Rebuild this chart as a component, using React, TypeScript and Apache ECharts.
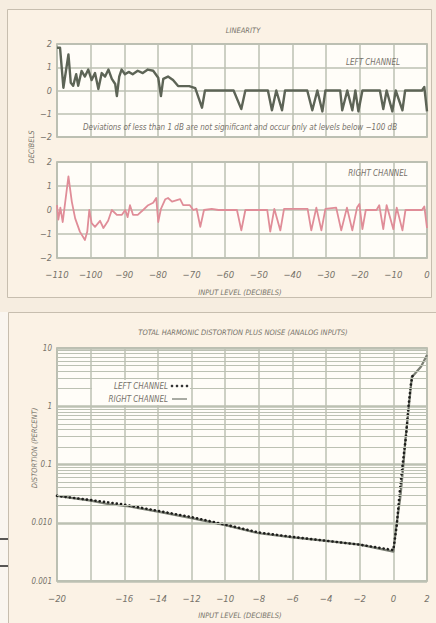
import React, { useEffect, useRef } from "react";
import * as echarts from "echarts";

// ---------- data ----------
const linearityTicks = [-110, -100, -90, -80, -70, -60, -50, -40, -30, -20, -10, 0];
const linearityYTicks = [2, 1, 0, -1, -2];

const leftLinearity: [number, number][] = [
  [-110, 1.84], [-109.1, 1.84], [-108.1, 0.12], [-106.6, 1.55], [-105.9, 0.33], [-105.2, 0.2],
  [-104.3, 0.7], [-103.7, 0.2], [-102.7, 0.84], [-101.7, 0.6], [-100.7, 0.9], [-99.7, 0.45],
  [-98.7, 0.75], [-97.7, 0.06], [-96.7, 0.75], [-95.7, 0.6], [-94.7, 0.9], [-93.7, 0.5],
  [-92.7, 0.28], [-92.2, -0.24], [-91.5, 0.6], [-90.8, 0.9], [-89.8, 0.7], [-88.7, 0.8],
  [-87.5, 0.7], [-86, 0.85], [-84.5, 0.75], [-83, 0.9], [-81.4, 0.85], [-79.9, 0.55],
  [-79.1, -0.24], [-78.4, 0.5], [-77, 0.6], [-75.5, 0.45], [-74, 0.19], [-70.7, 0.19],
  [-68.9, 0.1], [-66.9, -0.74], [-66, 0], [-57.5, 0], [-55.2, -0.8], [-54, 0],
  [-47.3, 0], [-46.1, -0.85], [-44.8, 0], [-43.1, -0.85], [-42.2, 0], [-35.6, 0],
  [-34.1, -0.85], [-32.6, 0], [-31.1, -0.9], [-30.2, 0], [-25.8, 0], [-25.2, -0.85],
  [-23.7, 0], [-22.2, -0.85], [-21.3, 0], [-20.4, -0.9], [-19.2, 0], [-14, 0],
  [-13, -0.8], [-12, 0], [-10.3, -0.9], [-9.3, 0], [-7.3, -0.85], [-6.5, 0],
  [-1.5, 0], [-0.8, 0.15], [0, -0.9],
];

const rightLinearity: [number, number][] = [
  [-110, 0.2], [-109.6, -0.4], [-109, 0.1], [-108.3, -0.5], [-106.6, 1.4], [-105.6, 0.35],
  [-104.6, -0.35], [-103.2, -0.9], [-101.7, -1.25], [-101, -0.9], [-100.4, 0], [-99.7, -0.55],
  [-98.7, -0.7], [-97.2, -0.45], [-96.2, -0.75], [-94.8, -0.45], [-93.7, 0], [-92.2, -0.2],
  [-90.7, -0.2], [-89.7, 0], [-89, -0.3], [-88.3, 0.2], [-87.4, -0.2], [-86, -0.2],
  [-84.4, 0], [-82.9, 0.2], [-81.4, 0.3], [-80.5, 0.5], [-79.9, -0.5], [-79.1, 0.05],
  [-77.8, 0.45], [-77, 0.5], [-75.8, 0.35], [-73.4, 0.45], [-72.5, 0.2], [-70.5, 0.2],
  [-69.5, 0], [-68.5, 0.05], [-67.4, -0.7], [-66.3, 0], [-64, 0.05], [-62, 0],
  [-56.5, 0], [-55.2, -0.85], [-54, 0], [-47.5, 0], [-46.6, -0.9], [-45.4, 0.05],
  [-43.6, -0.85], [-42.5, 0.05], [-35.5, 0.05], [-34.4, -0.85], [-32.9, 0.1], [-31.4, -0.85],
  [-30.2, 0.05], [-27, 0.1], [-25.5, -0.85], [-23.8, 0.1], [-22.2, -0.85], [-20.8, 0.1],
  [-20.1, 0.25], [-19.2, -0.8], [-18.2, 0], [-15, 0], [-14.2, 0.2], [-13, -0.8],
  [-12, 0.2], [-10, -0.8], [-9, 0.1], [-7.3, -0.85], [-6.4, 0], [-1.5, 0],
  [-0.8, 0.15], [0, -0.75],
];

const thdXTicks = [-20, -18, -16, -14, -12, -10, -8, -6, -4, -2, 0, 2];
const thdXHidden = [-18];
const thdYTicks = [10, 1, 0.1, 0.01, 0.001];
const thdYLabels = ["10", "1", "0.1", "0.010", "0.001"];
const thdMinorLines = [
  0.002, 0.003, 0.004, 0.005, 0.006, 0.007, 0.008, 0.009,
  0.02, 0.03, 0.04, 0.05, 0.06, 0.07, 0.08, 0.09,
  0.2, 0.3, 0.4, 0.5, 0.6, 0.7, 0.8, 0.9,
  2, 3, 4, 5, 6, 7, 8, 9,
];

const thdRight: [number, number][] = [
  [-20, 0.029], [-18, 0.024], [-17, 0.021], [-15.7, 0.019], [-14, 0.0155], [-12, 0.012],
  [-10, 0.0091], [-8, 0.0066], [-6, 0.0056], [-4, 0.0049], [-2, 0.0042], [0, 0.0032],
  [0.17, 0.0085], [0.42, 0.028], [0.6, 0.1], [0.71, 0.26], [0.9, 0.86], [1.1, 3.2],
  [1.2, 3.4], [1.65, 4.8], [2, 7.6],
];

const thdLeft: [number, number][] = [
  [-20, 0.029], [-18, 0.0245], [-16, 0.0205], [-14, 0.016], [-12, 0.0125], [-10, 0.0093],
  [-8, 0.0068], [-6, 0.0057], [-4, 0.0049], [-2, 0.0042], [0, 0.0034], [0.2, 0.009],
  [0.4, 0.04], [0.55, 0.1], [0.75, 0.3], [0.9, 1.0], [1.05, 2.5], [1.15, 3.4],
];

// ---------- styles ----------
const FONT = "'Liberation Sans Narrow', 'DejaVu Sans Condensed', 'Liberation Sans', sans-serif";
const TXT = "#77726a";
const GRID = "#bcc1b3";
const BORDER = "#a6aa9c";
const fmtMinus = (v: number) => (v < 0 ? "\u2212" + Math.abs(v) : String(v));

export default function App() {
  const ref = useRef<HTMLDivElement>(null);

  useEffect(() => {
    if (!ref.current) return;
    const chart = echarts.init(ref.current, undefined, { renderer: "svg" });

    const labelStyle = {
      color: TXT,
      fontFamily: FONT,
      fontStyle: "italic" as const,
      fontSize: 9,
    };
    const splitLine = { show: true, lineStyle: { color: GRID, width: 1.5 } };
    const axisLine = { show: false };

    const linX = (gi: number, showLabels: boolean) => ({
      type: "value" as const,
      gridIndex: gi,
      min: -110,
      max: 0,
      interval: 10,
      axisLine,
      axisTick: { show: false },
      splitLine,
      axisLabel: {
        show: showLabels,
        ...labelStyle,
        fontSize: 9.5,
        margin: 11,
        formatter: (v: number) => (linearityTicks.includes(v) ? fmtMinus(v) : ""),
      },
    });
    const linY = (gi: number) => ({
      type: "value" as const,
      gridIndex: gi,
      min: -2,
      max: 2,
      interval: 1,
      axisLine,
      axisTick: { show: false },
      splitLine,
      axisLabel: {
        ...labelStyle,
        margin: 5,
        formatter: (v: number) => (linearityYTicks.includes(v) ? fmtMinus(v) : ""),
      },
    });

    const text = (x: number, y: number, t: string, extra: any = {}) => ({
      type: "text",
      x,
      y,
      z: 10,
      silent: true,
      style: {
        text: t,
        fill: TXT,
        font: `italic 7.5px ${FONT}`,
        align: "center",
        verticalAlign: "middle",
        ...(extra.style || {}),
      },
      ...(extra.rotation !== undefined ? { rotation: extra.rotation } : {}),
    });

    chart.setOption({
      animation: false,
      backgroundColor: "#f6ede0",
      grid: [
        { left: 57, top: 44, width: 370, height: 93, show: true, backgroundColor: "#fffdf8", borderColor: BORDER, borderWidth: 1.5 },
        { left: 57, top: 162, width: 370, height: 96, show: true, backgroundColor: "#fffdf8", borderColor: BORDER, borderWidth: 1.5 },
        { left: 57, top: 348, width: 370, height: 233, show: true, backgroundColor: "#fffdf8", borderColor: BORDER, borderWidth: 1.5 },
      ],
      xAxis: [
        linX(0, false),
        linX(1, true),
        {
          type: "value",
          gridIndex: 2,
          min: -20,
          max: 2,
          interval: 2,
          axisLine,
          axisTick: { show: false },
          splitLine,
          axisLabel: {
            ...labelStyle,
            fontSize: 9.5,
            margin: 12,
            formatter: (v: number) =>
              thdXTicks.includes(v) && !thdXHidden.includes(v) ? fmtMinus(v) : "",
          },
        },
      ],
      yAxis: [
        linY(0),
        linY(1),
        {
          type: "log",
          gridIndex: 2,
          min: 0.001,
          max: 10,
          logBase: 10,
          axisLine,
          axisTick: { show: false },
          splitLine: { show: true, lineStyle: { color: GRID, width: 2.5 } },
          axisLabel: {
            ...labelStyle,
            fontSize: 8,
            margin: 5,
            formatter: (v: number) => {
              const i = thdYTicks.findIndex((t) => Math.abs(t - v) / t < 1e-6);
              return i >= 0 ? thdYLabels[i] : "";
            },
          },
        },
      ],
      series: [
        {
          name: "Left channel linearity",
          type: "line",
          xAxisIndex: 0,
          yAxisIndex: 0,
          data: leftLinearity,
          showSymbol: false,
          z: 3,
          lineStyle: { color: "#5d6456", width: 2.4, join: "round" },
        },
        {
          name: "Right channel linearity",
          type: "line",
          xAxisIndex: 1,
          yAxisIndex: 1,
          data: rightLinearity,
          showSymbol: false,
          z: 3,
          lineStyle: { color: "#e08d98", width: 1.8, join: "round" },
        },
        {
          name: "minor grid",
          type: "line",
          xAxisIndex: 2,
          yAxisIndex: 2,
          data: thdRight,
          showSymbol: false,
          silent: true,
          z: 1,
          lineStyle: { opacity: 0 },
          markLine: {
            silent: true,
            symbol: ["none", "none"],
            label: { show: false },
            lineStyle: { color: GRID, width: 1.2, type: "solid" },
            data: thdMinorLines.map((v) => ({ yAxis: v })),
          },
        },
        {
          name: "RIGHT CHANNEL",
          type: "line",
          xAxisIndex: 2,
          yAxisIndex: 2,
          data: thdRight,
          showSymbol: false,
          z: 3,
          lineStyle: { color: "#7b7f74", width: 2.2, join: "round" },
        },
        {
          name: "LEFT CHANNEL",
          type: "line",
          xAxisIndex: 2,
          yAxisIndex: 2,
          data: thdLeft,
          showSymbol: false,
          z: 4,
          lineStyle: { color: "#1e1e1c", width: 2.6, type: [0.1, 4.2], cap: "round" },
        },
      ],
      graphic: [
        // panel frames
        {
          type: "rect",
          silent: true,
          z: -10,
          shape: { x: 7.5, y: 9.5, width: 424, height: 288 },
          style: { fill: "#fbf2e5", stroke: "#c7beaf", lineWidth: 1 },
        },
        {
          type: "rect",
          silent: true,
          z: -10,
          shape: { x: 8.5, y: 312.5, width: 430, height: 320 },
          style: { fill: "#fbf2e5", stroke: "#c7beaf", lineWidth: 1 },
        },
        {
          type: "rect",
          silent: true,
          z: -11,
          shape: { x: 0, y: 312, width: 8, height: 311 },
          style: { fill: "#faf6f0" },
        },
        { type: "line", silent: true, shape: { x1: 0, y1: 539, x2: 8, y2: 539 }, style: { stroke: "#222", lineWidth: 1.5 } },
        { type: "line", silent: true, shape: { x1: 0, y1: 566, x2: 8, y2: 566 }, style: { stroke: "#222", lineWidth: 1.5 } },
        // legend backdrop
        {
          type: "rect",
          silent: true,
          z: 9,
          shape: { x: 92, y: 380, width: 98, height: 25 },
          style: { fill: "#fffdf8" },
        },
        // titles and notes
        text(243, 30, "LINEARITY"),
        text(373, 62, "LEFT CHANNEL", { style: { font: `italic 8px ${FONT}` } }),
        text(240, 127, "Deviations of less than 1 dB are not significant and occur only at levels below \u2212100 dB", {
          style: { font: `italic 8px ${FONT}` },
        }),
        text(378, 173, "RIGHT CHANNEL", { style: { font: `italic 8px ${FONT}` } }),
        text(31, 147, "DECIBELS", { rotation: Math.PI / 2 }),
        text(240, 292, "INPUT LEVEL (DECIBELS)"),
        text(243, 332, "TOTAL HARMONIC DISTORTION PLUS NOISE (ANALOG INPUTS)"),
        text(34, 448, "DISTORTION (PERCENT)", { rotation: Math.PI / 2 }),
        text(240, 615, "INPUT LEVEL (DECIBELS)"),
        // legend
        text(168, 386, "LEFT CHANNEL", { style: { align: "right", font: `italic 8px ${FONT}` } }),
        text(168, 399, "RIGHT CHANNEL", { style: { align: "right", font: `italic 8px ${FONT}` } }),
        ...[172, 177, 182, 187].map((cx) => ({
          type: "circle",
          silent: true,
          z: 10,
          shape: { cx, cy: 386, r: 1.3 },
          style: { fill: "#333" },
        })),
        { type: "line", silent: true, z: 10, shape: { x1: 172, y1: 399, x2: 187, y2: 399 }, style: { stroke: "#7b7f74", lineWidth: 1.3 } },
      ],
    });

    return () => chart.dispose();
  }, []);

  return (
    <div
      ref={ref}
      style={{ position: "fixed", left: 0, top: 0, width: 436, height: 623 }}
    />
  );
}
